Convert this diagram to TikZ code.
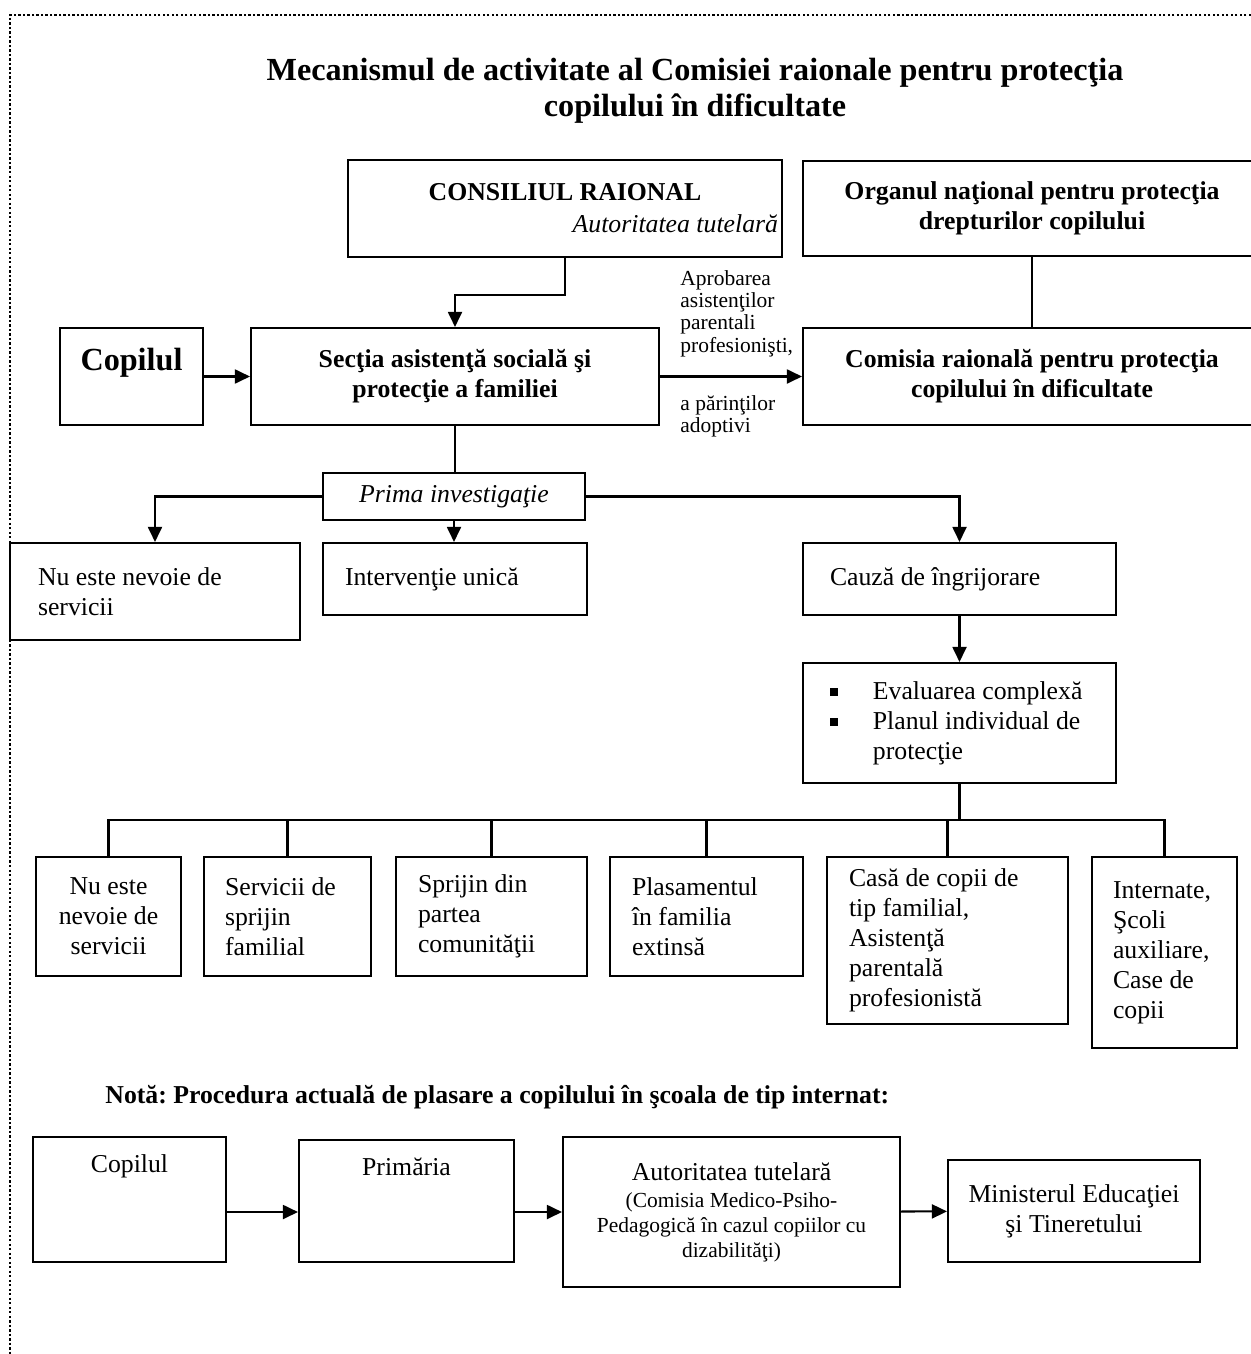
\documentclass[tikz,border=0pt]{standalone}
\usepackage{fontspec}
\setmainfont{Liberation Serif}
\usetikzlibrary{arrows.meta}
\frenchspacing

\newdimen\pxu
\pxu=0.466pt
\newcommand{\normtext}{\fontsize{12}{14}\selectfont}
\newcommand{\smalltext}{\fontsize{10}{11.6}\selectfont}
\newcommand{\bul}{\makebox[20pt][l]{\rule[0.3ex]{3.6pt}{3.6pt}}}

\begin{document}
\begin{tikzpicture}[x=0.466pt, y=-0.466pt, font=\normtext,
  box/.style 2 args={draw, line width=0.95pt, inner sep=0pt, align=flush center,
              minimum width=#1*\pxu, minimum height=#2*\pxu},
  lbox/.style n args={3}{box={#1}{#2}, align=flush left,
              inner xsep=#3*\pxu, text width=(#1-2*#3)*\pxu},
  bbox/.style 2 args={box={#1}{#2}, font=\normtext\bfseries},
  note/.style={font=\fontsize{10}{10.3}\selectfont, align=left, inner sep=0pt},
  conn/.style={line width=0.95pt},
  arr/.style={conn, -{Triangle[length=7pt, width=6.5pt]}},
]
  \useasboundingbox (0,0) rectangle (1251,1354);
  \clip (0,0) rectangle (1251,1354);
  \draw[densely dotted, line width=1.1pt] (1260,15) -- (10,15) -- (10,1360);

  \node[font=\fontsize{15}{16.8}\selectfont\bfseries, align=center, inner sep=0pt,
        anchor=north] (title) at (695,58)
    {Mecanismul de activitate al Comisiei raionale pentru protecţia\\copilului în dificultate};

  \node[box={434}{97}, text width=426*\pxu] (cons) at (565,208.5)
    {\textbf{CONSILIUL RAIONAL}\\[1pt] \hfill\textit{Autoritatea tutelară}};
  \node[bbox={458}{95}] (organ) at (1032,208.5)
    {Organul naţional pentru protecţia\\drepturilor copilului};
  \node[box={143}{97}, font=\fontsize{15}{17}\selectfont\bfseries,
        text height=10pt, text depth=16pt] (copA) at (131.5,376.5) {Copilul};
  \node[bbox={408}{97}] (sectia) at (455,376.5)
    {Secţia asistenţă socială şi\\protecţie a familiei};
  \node[bbox={458}{97}] (comisia) at (1032,376.5)
    {Comisia raională pentru protecţia\\copilului în dificultate};
  \node[note, anchor=south west] (aprob) at (680,357)
    {Aprobarea\\asistenţilor\\parentali\\profesionişti,};
  \node[note, anchor=north west] (adopt) at (680,395) {a părinţilor\\adoptivi};

  \node[box={262}{47}, font=\normtext\itshape] (prima) at (454,496.5) {Prima investigaţie};
  \node[lbox={290}{97}{28}] (nuA) at (155,591.5) {Nu este nevoie de\\servicii};
  \node[lbox={264}{72}{22}] (interv) at (455,579) {Intervenţie unică};
  \node[lbox={313}{72}{27}] (cauza) at (959.5,579) {Cauză de îngrijorare};
  \node[lbox={313}{120}{27}] (eval) at (959.5,723)
    {\bul Evaluarea complexă\\\bul Planul individual de\\\hspace*{20pt}protecţie};

  \node[box={145}{119}] (r1) at (108.5,916.5) {Nu este\\nevoie de\\servicii};
  \node[lbox={167}{119}{21}] (r2) at (287.5,916.5) {Servicii de\\sprijin\\familial};
  \node[lbox={191}{119}{22}] (r3) at (491.5,916.5) {Sprijin din\\partea\\comunităţii};
  \node[lbox={193}{119}{22}] (r4) at (706.5,916.5) {Plasamentul\\în familia\\extinsă};
  \node[lbox={241}{167}{22}] (r5) at (947.5,940.5)
    {Casă de copii de\\tip familial,\\Asistenţă\\parentală\\profesionistă};
  \node[lbox={145}{191}{21}] (r6) at (1164.5,952.5)
    {Internate,\\Şcoli\\auxiliare,\\Case de\\copii};

  \node[anchor=base west, inner sep=0pt, font=\normtext\bfseries] (nota) at (105,1103)
    {Notă: Procedura actuală de plasare a copilului în şcoala de tip internat:};

  \node[box={193}{125}, text height=8pt, text depth=33.6pt] (b1) at (129.5,1199.5) {Copilul};
  \node[box={215}{122}, text height=8pt, text depth=32.2pt] (b2) at (406.5,1201) {Primăria};
  \node[box={337}{150}, text width=327*\pxu] (b3) at (731.5,1212)
    {Autoritatea tutelară\\[1pt]{\smalltext (Comisia Medico-Psiho-\\Pedagogică în cazul copiilor cu\\dizabilităţi)\par}};
  \node[box={252}{102}] (b4) at (1074,1211) {Ministerul Educaţiei\\şi Tineretului};

  \draw[arr] (cons.south) -- ++(0,37) -| (sectia.north);
  \draw[arr] (copA) -- (sectia);
  \draw[arr] (sectia) -- (comisia);
  \draw[conn] (organ) -- (comisia);
  \draw[conn] (sectia.south) -- (sectia.south |- prima.north);
  \draw[arr] (prima.west) -| (nuA.north);
  \draw[arr] (prima.east) -| (cauza.north);
  \draw[arr] (prima.south) -- (prima.south |- interv.north);
  \draw[arr] (cauza) -- (eval);

  \coordinate (bus) at (959.5,820);
  \draw[conn] (eval) -- (bus);
  \draw[conn] (r1.north) |- (bus) -| (r6.north);
  \foreach \n in {r2,r3,r4,r5}
    \draw[conn] (\n.north) -- (\n.north |- bus);

  \draw[arr] (b1.east |- b3) -- (b2.west |- b3);
  \draw[arr] (b2.east |- b3) -- (b3.west);
  \draw[arr] (b3) -- (b4);
\end{tikzpicture}
\end{document}
